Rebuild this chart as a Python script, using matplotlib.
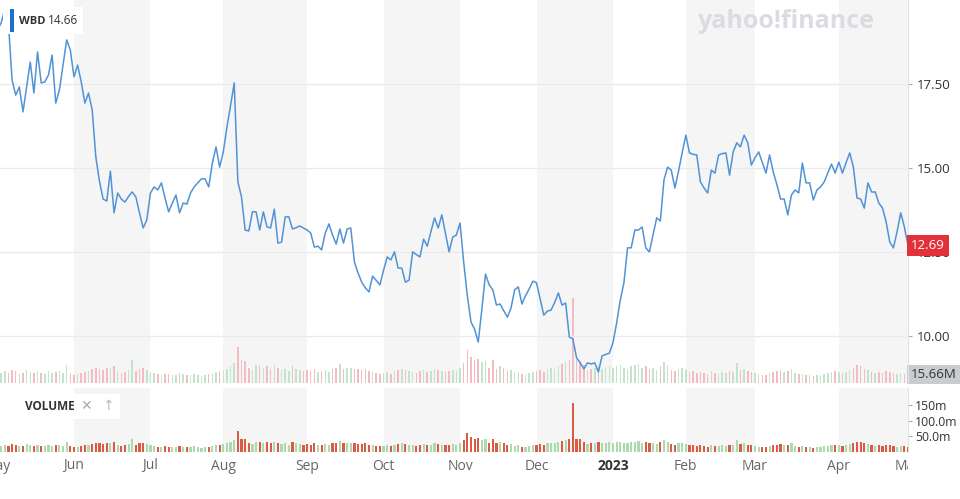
import matplotlib.pyplot as plt
import numpy as np
import pandas as pd
from matplotlib.patches import Rectangle
from matplotlib.transforms import Bbox, TransformedBbox, blended_transform_factory

plt.rcParams['font.family'] = ['Open Sans', 'DejaVu Sans']

# market holidays inside the window (trading-day axis)
holidays = ['2022-05-30', '2022-06-20', '2022-07-04', '2022-09-05', '2022-11-24',
            '2022-12-26', '2023-01-02', '2023-01-16', '2023-02-20', '2023-04-07']

# WBD daily close
close_may22 = [19.10, 19.30, 19.72, 19.30, 17.61, 17.16, 17.40, 16.66, 17.40, 18.14, 17.22,
               18.44, 17.52, 17.55, 17.76, 18.35, 16.92, 17.31, 18.05, 18.80, 18.50]
close_jun22 = [17.70, 18.05, 17.55, 16.92, 17.22, 16.72, 15.32, 14.60, 14.07, 14.01, 14.90,
               13.66, 14.25, 14.07, 13.98, 14.15, 14.28, 14.13, 13.65, 13.21, 13.45]
close_jul22 = [14.25, 14.43, 14.34, 14.55, 14.10, 13.69, 13.95, 14.19, 13.66, 13.95,
               13.92, 14.25, 14.43, 14.55, 14.67, 14.67, 14.43, 15.14, 15.62, 15.02]
close_aug22 = [15.47, 16.21, 16.85, 17.52, 14.58, 14.13, 13.15, 13.12, 13.69, 13.69, 13.15, 13.69,
               13.24, 13.21, 13.77, 12.76, 12.79, 13.54, 13.54, 13.18, 13.22, 13.27, 13.21]
close_sep22 = [13.15, 13.06, 12.64, 12.67, 12.56, 13.06, 13.33, 13.00, 12.73, 13.18, 12.76,
               13.18, 13.21, 12.20, 11.87, 11.60, 11.43, 11.31, 11.78, 11.65, 11.52]
close_oct22 = [11.95, 12.35, 12.26, 12.50, 12.02, 12.02, 11.60, 11.66, 12.50, 12.42, 12.35,
               12.88, 12.67, 13.10, 13.51, 13.21, 13.60, 13.05, 12.50, 12.94, 13.00]
close_nov22 = [13.36, 12.20, 11.20, 10.42, 10.20, 9.82, 10.80, 11.84, 11.52, 11.37, 10.92,
               10.95, 10.75, 10.56, 10.83, 11.37, 11.46, 10.95, 11.20, 11.40, 11.63]
close_dec22 = [11.58, 11.10, 10.62, 10.74, 10.77, 11.00, 11.28, 10.92, 10.98, 9.97, 9.91,
               9.35, 9.20, 9.02, 9.20, 9.17, 9.20, 8.93, 9.41, 9.45, 9.49]
close_jan23 = [9.80, 10.39, 11.07, 11.58, 12.62, 12.62, 13.15, 13.15, 13.24, 12.62,
               12.50, 13.00, 13.51, 13.42, 14.64, 15.02, 14.93, 14.40, 14.90, 15.45]
close_feb23 = [15.97, 15.44, 15.40, 15.38, 14.58, 14.40, 14.25, 14.93, 14.84, 15.38,
               15.42, 15.44, 14.78, 15.47, 15.74, 15.62, 15.97, 15.74, 15.08]
close_mar23 = [15.30, 15.47, 15.15, 14.84, 15.38, 14.87, 14.50, 14.07, 14.07, 13.60, 14.19, 14.34,
               14.25, 15.14, 14.55, 14.55, 14.04, 14.34, 14.43, 14.58, 14.85, 15.11, 14.84]
close_apr23 = [15.17, 14.84, 15.15, 15.44, 15.02, 14.10, 14.07, 13.80, 14.55, 14.28,
               14.28, 13.95, 13.80, 13.39, 12.79, 12.62, 13.10, 13.66, 13.24]
close_may23 = [12.69]

# daily volume, millions
vol_may22 = [20, 18, 22, 19, 24, 21, 17, 19, 23, 20, 18, 22, 19, 17, 21, 18, 20, 22, 19, 32, 18]
vol_jun22 = [14, 16, 18, 20, 22, 25, 27, 26, 24, 28, 27, 30, 22, 18, 20, 24, 42, 22, 26, 28, 24]
vol_jul22 = [20, 18, 16, 15, 17, 16, 14, 15, 18, 16, 14, 15, 17, 14, 13, 15, 16, 18, 20, 22]
vol_aug22 = [24, 26, 30, 36, 65, 42, 40, 28, 24, 32, 30, 28, 30, 26, 32, 28, 24, 26, 22, 30, 26, 24, 22]
vol_sep22 = [24, 22, 26, 20, 22, 24, 20, 26, 28, 35, 26, 27, 28, 26, 25, 24, 26, 22, 20, 18, 17]
vol_oct22 = [18, 20, 17, 22, 24, 26, 24, 22, 20, 18, 22, 24, 20, 22, 26, 24, 22, 20, 22, 24, 22]
vol_nov22 = [28, 36, 60, 48, 42, 44, 38, 40, 28, 42, 26, 30, 28, 22, 24, 18, 20, 16, 14, 18, 20]
vol_dec22 = [22, 24, 20, 26, 28, 26, 30, 34, 38, 42, 155, 42, 40, 32, 24, 26, 28, 30, 26, 28, 30]
vol_jan23 = [28, 30, 32, 28, 26, 30, 32, 34, 28, 30, 26, 28, 24, 30, 38, 32, 24, 22, 26, 28]
vol_feb23 = [24, 20, 22, 18, 20, 18, 16, 22, 18, 17, 20, 18, 22, 20, 36, 24, 26, 22, 20]
vol_mar23 = [18, 16, 14, 15, 18, 20, 22, 24, 20, 22, 26, 18, 16, 17, 15, 14, 13, 14, 15, 17, 18, 20, 22]
vol_apr23 = [20, 18, 20, 24, 28, 32, 30, 26, 24, 20, 18, 20, 18, 22, 20, 18, 16, 18, 17]
vol_may23 = [15.66]

close = (close_may22 + close_jun22 + close_jul22 + close_aug22 + close_sep22 + close_oct22 +
         close_nov22 + close_dec22 + close_jan23 + close_feb23 + close_mar23 + close_apr23 + close_may23)
volume = (vol_may22 + vol_jun22 + vol_jul22 + vol_aug22 + vol_sep22 + vol_oct22 +
          vol_nov22 + vol_dec22 + vol_jan23 + vol_feb23 + vol_mar23 + vol_apr23 + vol_may23)

days = pd.bdate_range('2022-05-02', '2023-05-01', freq='C', holidays=holidays)[:len(close)]
x = np.arange(len(close))
month_start = [i for i in range(len(days)) if i == 0 or days[i].month != days[i - 1].month]

W, H = 960, 499
def rect(x0, y0, x1, y1):
    return [x0 / W, 1 - y1 / H, (x1 - x0) / W, (y1 - y0) / H]

XLIM = (0.69, 250.0)
up = np.r_[True, np.diff(close) >= 0]

fig = plt.figure(figsize=(9.6, 4.99), dpi=100)
axo = fig.add_axes(rect(0, 0, 908, 383))   # shading + faint volume overlay
ax = fig.add_axes(rect(0, 0, 908, 383))    # price line
axb = fig.add_axes(rect(0, 388, 908, 452))  # volume panel

for a in (axo, axb):
    for k in range(1, len(month_start) - 1, 2):
        a.axvspan(month_start[k], month_start[k + 1], color='#f5f5f5', lw=0, zorder=0)
    a.set_xlim(*XLIM)

axo.bar(x, volume, width=0.42, color=np.where(up, '#c2e4c8', '#f4bcc2'), zorder=1)
axo.set_ylim(0, 696)
axo.axis('off')
axo.text(1.003, 15.66, '15.66M', transform=axo.get_yaxis_transform(), ha='left', va='center',
         fontsize=9.5, color='#333333',
         bbox=dict(boxstyle='square,pad=0.25', fc='#c9ccd1', ec='none'))

ax.patch.set_visible(False)
ax.plot(x, close, color='#5093d6', lw=1.1, zorder=3)
ax.set_xlim(*XLIM)
ax.set_ylim(8.603, 19.985)
ax.set_yticks([10, 12.5, 15, 17.5])
ax.yaxis.set_major_formatter('{x:.2f}')
ax.yaxis.tick_right()
ax.set_xticks([])
ax.grid(axis='y', color='#ebebeb', lw=1)
ax.tick_params(axis='y', length=3, color='#aaaaaa', labelsize=9.5, labelcolor='#333333', pad=3)
ax.text(1.003, close[-1], f'{close[-1]:.2f}', transform=ax.get_yaxis_transform(), ha='left',
        va='center', fontsize=9.5, color='white',
        bbox=dict(boxstyle='square,pad=0.3', fc='#e2313b', ec='none'))

axb.bar(x, volume, width=0.6, color=np.where(up, '#acd9ad', '#da5a43'), zorder=1)
axb.set_ylim(-1.5, 205)
axb.set_yticks([50, 100, 150])
axb.set_yticklabels(['50.0m', '100.0m', '150m'])
axb.yaxis.tick_right()
axb.set_xticks([])
axb.tick_params(axis='y', length=3, color='#aaaaaa', labelsize=8.8, labelcolor='#333333', pad=2)

for a in (ax, axb):
    for s in ('top', 'left', 'bottom'):
        a.spines[s].set_visible(False)
    a.spines['right'].set_color('#e3e3e3')

# month labels, clipped at the right edge of the plot
clip = TransformedBbox(Bbox([[0, 0], [908 / W, 1]]), fig.transFigure)
tr = blended_transform_factory(axb.transData, fig.transFigure)
for i in month_start:
    d = days[i]
    jan = d.month == 1
    t = axb.text(i, 1 - 466 / H, str(d.year) if jan else d.strftime('%b'), transform=tr,
                 ha='center', va='center', fontsize=10,
                 color='#333333' if jan else '#666666', fontweight='bold' if jan else 'normal')
    t.set_clip_box(clip)
    t.set_clip_on(True)

# ticker badge
fig.add_artist(Rectangle((3 / W, 1 - 34 / H), 80 / W, 27 / H, transform=fig.transFigure,
                         fc='white', ec='none', zorder=5))
fig.add_artist(Rectangle((10 / W, 1 - 32 / H), 4 / W, 23 / H, transform=fig.transFigure,
                         fc='#1f6fd1', ec='none', zorder=6))
fig.text(19 / W, 1 - 21 / H, 'WBD', fontsize=8, fontweight='bold', color='#333333',
         va='center', zorder=7)
fig.text(48 / W, 1 - 21 / H, '14.66', fontsize=8.5, color='#333333', va='center', zorder=7)

# volume panel header
fig.add_artist(Rectangle((20 / W, 1 - 419 / H), 100 / W, 25 / H, transform=fig.transFigure,
                         fc='white', ec='none', zorder=5))
fig.text(25 / W, 1 - 407 / H, 'VOLUME', fontsize=8.5, fontweight='bold', color='#333333',
         va='center', zorder=7)
fig.text(86 / W, 1 - 407 / H, '\u2715', fontsize=10, color='#aaaaaa', ha='center',
         va='center', zorder=7)
fig.text(108 / W, 1 - 407 / H, '\u2191', fontsize=10, color='#bbbbbb', ha='center',
         va='center', zorder=7)

# watermark
fig.text(786 / W, 1 - 22 / H, 'yahoo!finance', fontsize=18, fontweight='bold',
         color='#dadce1', ha='center', va='center', zorder=2)

fig.savefig('out.png', dpi=100, facecolor='white')
